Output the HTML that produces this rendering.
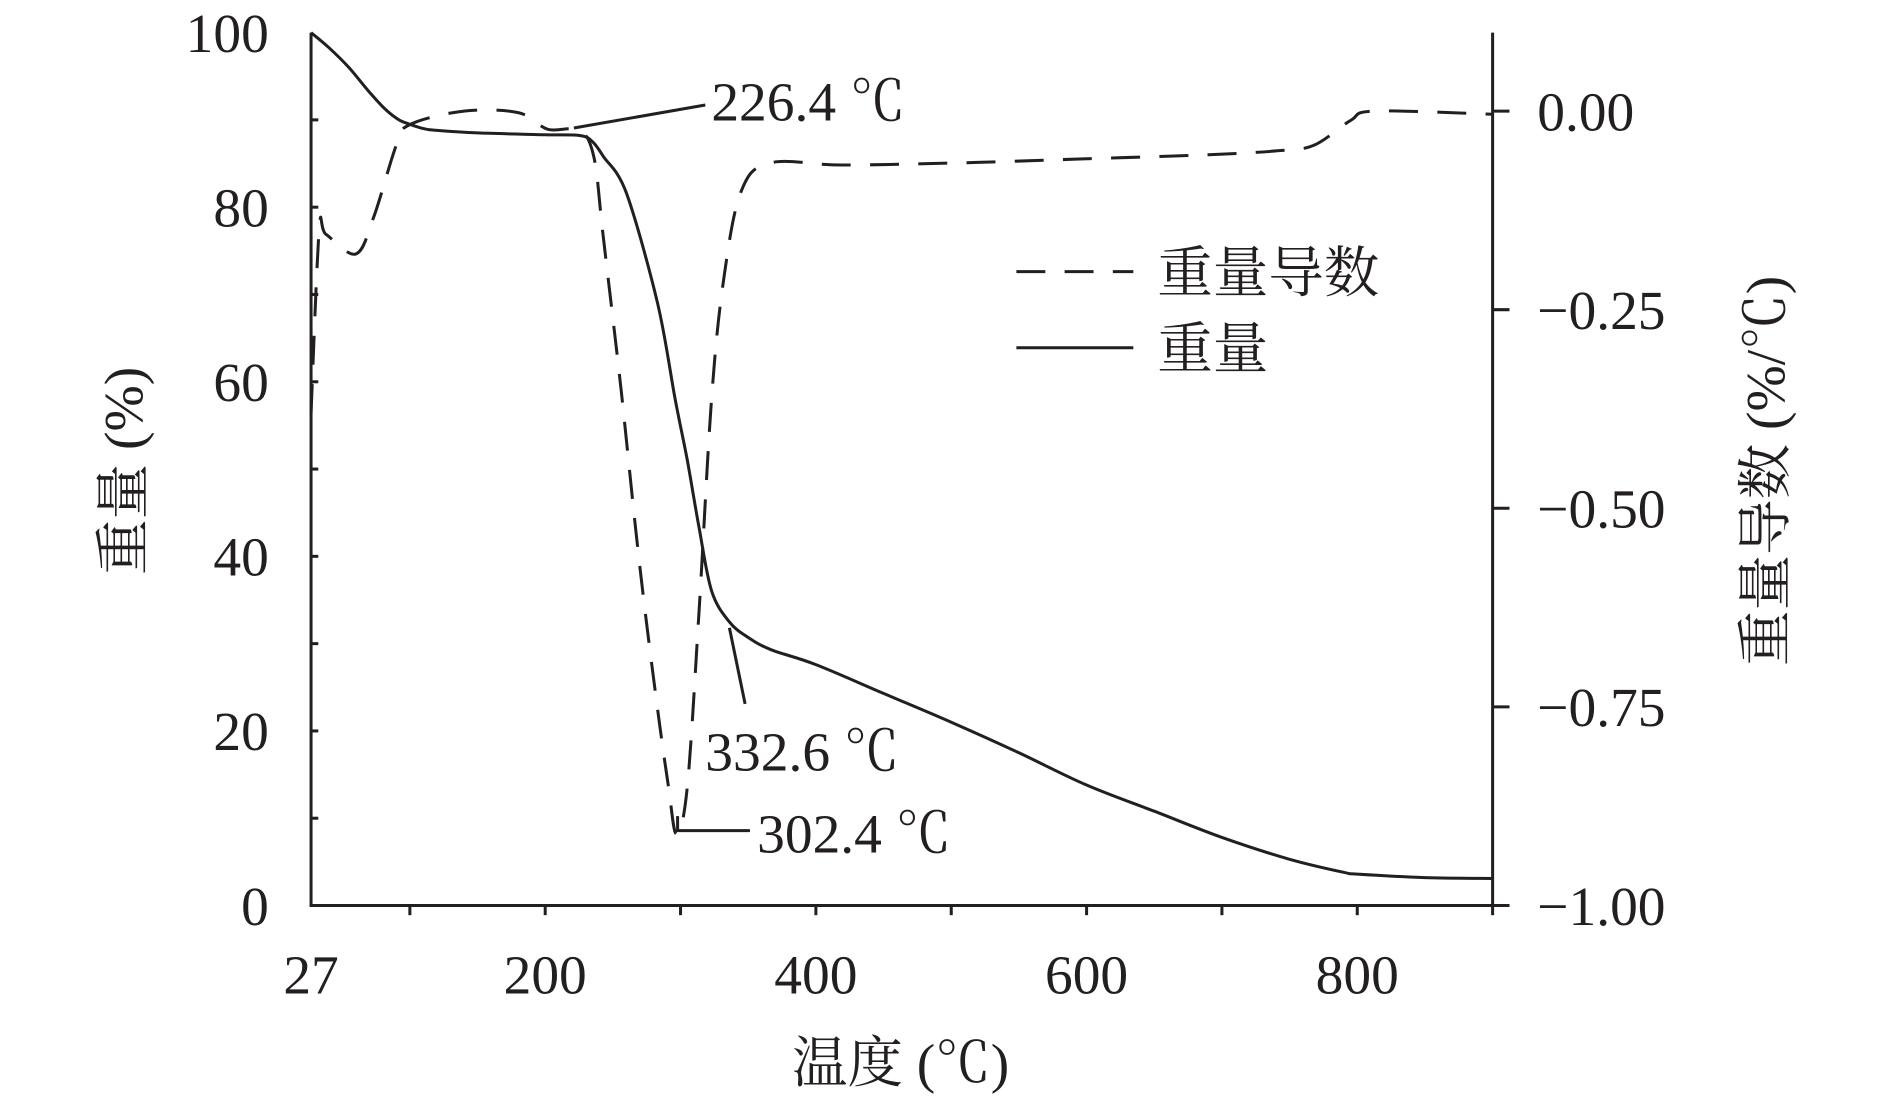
<!DOCTYPE html>
<html><head><meta charset="utf-8"><style>
html,body{margin:0;padding:0;background:#fff;}
svg{display:block;}
text{fill:#231f20;}
.num{font-family:"Liberation Serif","Noto Serif CJK SC",serif;font-size:46px;}
.cjk{font-family:"Liberation Serif","Noto Serif CJK SC",serif;font-size:46px;}
</style></head><body>
<svg id="chart" width="1890" height="1097" viewBox="0 0 1567.6 908.6" preserveAspectRatio="none" xmlns="http://www.w3.org/2000/svg">
<g id="axes" stroke="#231f20" stroke-width="2.5" fill="none"></g>
<g id="labels"></g>
<path id="deriv" fill="none" stroke="#231f20" stroke-width="2.5" stroke-dasharray="24,16"></path>
<path id="weight" fill="none" stroke="#231f20" stroke-width="2.5"></path>
<g stroke="#231f20" stroke-width="2.5" fill="none">
<line x1="476" y1="106" x2="585" y2="87"/>
<line x1="605" y1="520" x2="618" y2="583"/>
<polyline points="562,676 562,688 622,688"/>
</g>
<text class="num" x="590" y="100">226.4 ℃</text>
<text class="num" x="585" y="638">332.6 ℃</text>
<text class="num" x="628" y="706">302.4 ℃</text>
<g>
<line x1="843" y1="225" x2="940" y2="225" stroke="#231f20" stroke-width="2.5" stroke-dasharray="24,16"/>
<text class="cjk" x="960" y="242">重量导数</text>
<line x1="843" y1="288" x2="940" y2="288" stroke="#231f20" stroke-width="2.5"/>
<text class="cjk" x="960" y="305">重量</text>
</g>
<text class="cjk" x="747" y="896" text-anchor="middle">温度 (℃)</text>
<text class="cjk" transform="translate(118,390) rotate(-90)" text-anchor="middle">重量 (%)</text>
<text class="cjk" transform="translate(1480,390) rotate(-90)" text-anchor="middle">重量导数 (%/℃)</text>
</svg>
<script>
const weightTemps=[27,40,55,70,82,92,100,110,120,150,200,226,235,243,260,283,296,305,314,323,336,350,367,400,450,500,550,600,650,700,750,790,800,850,900];
const weightValues=[100,98.3,96,93.2,91.2,90,89.5,89,88.8,88.5,88.3,88.2,87.5,85.8,81.6,69,58,51,43,36,32.5,30.7,29.3,27.6,24.3,21,17.5,13.8,10.8,7.8,5.3,3.8,3.6,3.2,3.1];
const derivTemps=[27,33,38,60,73,90,100,140,180,202,225,236,243,256,269,282,291,297,305,314,323,332,345,367,420,510,600,690,741,768,795,813,900];
const derivValues=[-0.38,-0.15,-0.155,-0.18,-0.135,-0.043,-0.017,0,-0.002,-0.023,-0.024,-0.058,-0.16,-0.35,-0.56,-0.74,-0.85,-0.91,-0.85,-0.62,-0.36,-0.21,-0.10,-0.065,-0.068,-0.065,-0.06,-0.055,-0.05,-0.043,-0.012,0,-0.004];
const xTicks=[27,200,400,600,800];
const leftTicks=[0,20,40,60,80,100];
const rightTicks=[0,-0.25,-0.5,-0.75,-1];
const rightTickLabels=["0.00","\u22120.25","\u22120.50","\u22120.75","\u22121.00"];

const X0=258,X1=1238,Ybot=750,Ytop=27,RY0=92;
const xs=t=>X0+(t-27)*(X1-X0)/873;
const yl=w=>Ybot-(w/100)*(Ybot-Ytop);
const yr=d=>RY0-d*(Ybot-RY0);
const NS="http://www.w3.org/2000/svg";
function mk(tag,attrs,parent){const e=document.createElementNS(NS,tag);for(const k in attrs)e.setAttribute(k,attrs[k]);parent.appendChild(e);return e;}
function smooth(pts){let d=`M${pts[0][0].toFixed(1)},${pts[0][1].toFixed(1)}`;
for(let i=0;i<pts.length-1;i++){const p0=pts[i-1]||pts[i],p1=pts[i],p2=pts[i+1],p3=pts[i+2]||p2;
const c1=[p1[0]+(p2[0]-p0[0])/6,p1[1]+(p2[1]-p0[1])/6],c2=[p2[0]-(p3[0]-p1[0])/6,p2[1]-(p3[1]-p1[1])/6];
d+=` C${c1[0].toFixed(1)},${c1[1].toFixed(1)} ${c2[0].toFixed(1)},${c2[1].toFixed(1)} ${p2[0].toFixed(1)},${p2[1].toFixed(1)}`;}
return d;}
const axes=document.getElementById('axes'),labels=document.getElementById('labels');
let a=mk('path',{d:`M${X0},${Ytop} V${Ybot} H${X1}`},axes);


a=mk('line',{x1:X1,y1:Ytop,x2:X1,y2:Ybot},axes);


for(let t=100;t<=900;t+=100){const e=mk('line',{x1:xs(t),y1:Ybot,x2:xs(t),y2:Ybot+8},axes);

}
for(let w=10;w<=90;w+=10){const e=mk('line',{x1:X0,y1:yl(w),x2:X0+6,y2:yl(w)},axes);

}
xTicks.forEach(t=>{const e=mk('text',{x:xs(t),y:823,'text-anchor':'middle','class':'num'},labels);e.textContent=t;

});
leftTicks.forEach(w=>{const e=mk('text',{x:X0-35,y:yl(w)+16,'text-anchor':'end','class':'num'},labels);e.textContent=w;

});
rightTicks.forEach((d,i)=>{const t=mk('line',{x1:X1,y1:yr(d),x2:X1+14,y2:yr(d)},axes);


const e=mk('text',{x:1275,y:yr(d)+16,'class':'num'},labels);e.textContent=rightTickLabels[i];

});
document.getElementById('weight').setAttribute('d',smooth(weightTemps.map((t,i)=>[xs(t),yl(weightValues[i])])));
document.getElementById('deriv').setAttribute('d',smooth(derivTemps.map((t,i)=>[xs(t),yr(derivValues[i])])));
</script>
</body></html>
